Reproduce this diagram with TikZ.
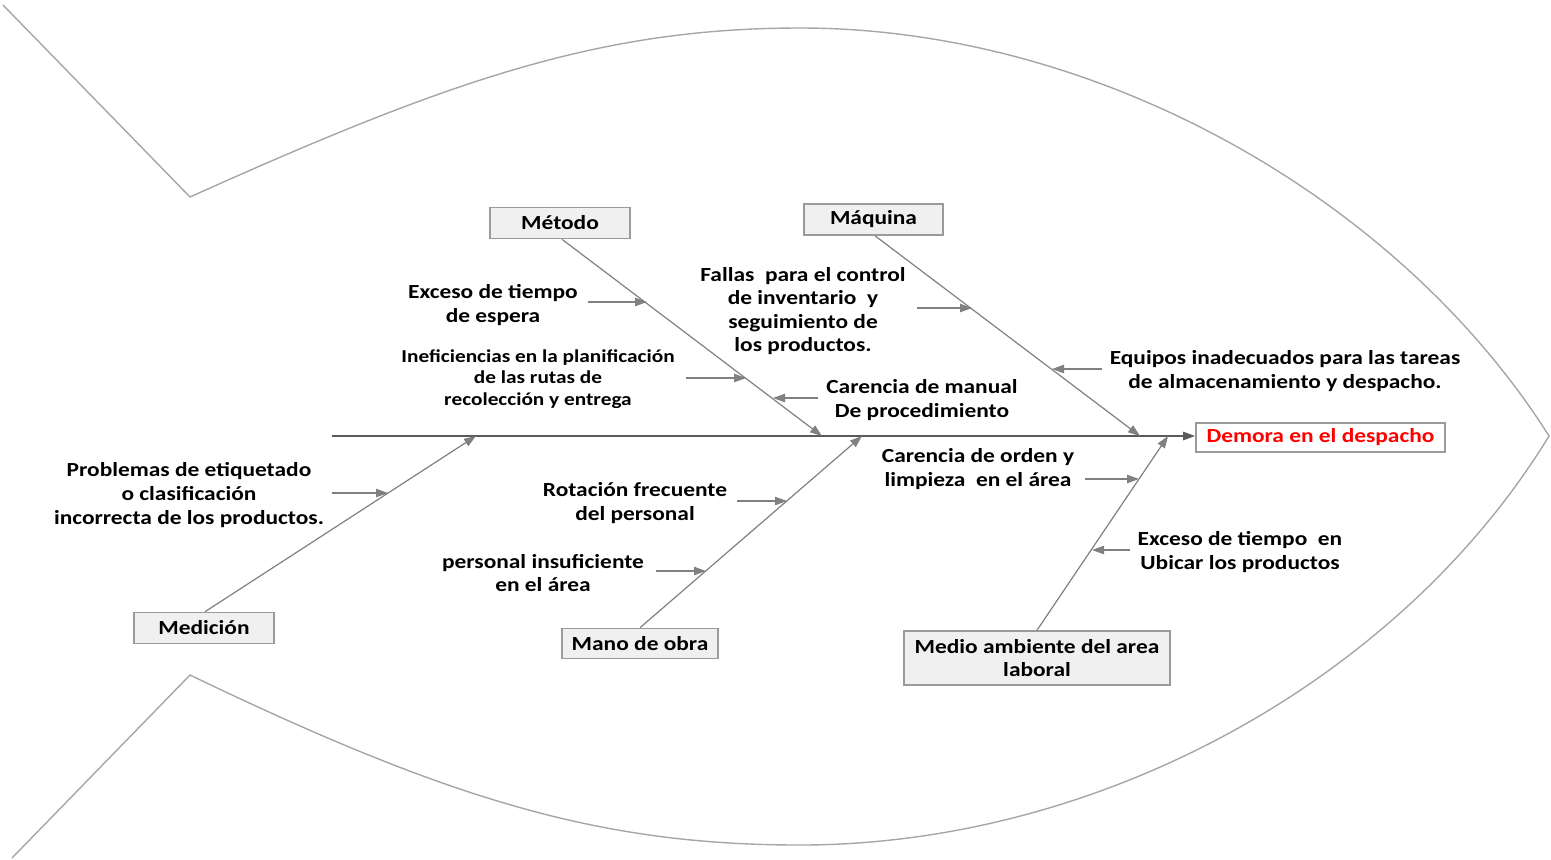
\documentclass[tikz,border=0pt]{standalone}
\usepackage{fontspec}
\setmainfont{Carlito}[FakeStretch=1.17]
\usetikzlibrary{arrows.meta}
\definecolor{lineg}{HTML}{808080}
\definecolor{spineg}{HTML}{5A5A5A}
\definecolor{boxfill}{HTML}{F0F0F0}
\definecolor{boxline}{HTML}{9A9A9A}
\begin{document}
\begin{tikzpicture}[x=0.5pt,y=-0.5pt,
  tip/.style={-{Triangle[length=6pt,width=4.2pt]}},
  bone/.style={draw=lineg,line width=0.6pt,tip},
  fishline/.style={draw=gray!70,line width=0.7pt},
  txt/.style={align=center,inner sep=0pt,font=\bfseries\fontsize{10}{11.8}\selectfont},
  catbox/.style={draw=boxline,fill=boxfill,line width=0.8pt,inner sep=0pt,align=center,font=\bfseries\fontsize{10}{11.8}\selectfont}]
\useasboundingbox (0,0) rectangle (1551,859);
% fish outline
\draw[fishline] (3,5) -- (190,197) .. controls (450,80) and (600,28) .. (800,28)
  .. controls (1100,28) and (1400,200) .. (1549,436)
  .. controls (1400,680) and (1100,845) .. (800,845)
  .. controls (600,845) and (450,800) .. (190,675) -- (12,858);
% effect
\node[draw=boxline,fill=white,line width=0.9pt,minimum width=124.5pt,minimum height=14.5pt,inner sep=0pt,
  font=\bfseries\fontsize{10}{11.8}\selectfont,text=red] (eff) at (1320.5,437.5) {Demora en el despacho};
\coordinate (tailend) at (332,436);
\draw[draw=spineg,line width=0.7pt,tip] (tailend) -- (eff.west |- tailend);
% categories
\node[catbox,minimum width=70pt,minimum height=15.5pt] (met) at (560,223) {Método};
\node[catbox,minimum width=69.5pt,minimum height=15.5pt] (maq) at (873.5,219.5) {Máquina};
\node[catbox,minimum width=70pt,minimum height=15.5pt] (med) at (204,628) {Medición};
\node[catbox,minimum width=78pt,minimum height=15pt] (mano) at (640,643.5) {Mano de obra};
\node[catbox,minimum width=133pt,minimum height=27pt] (amb) at (1037,658) {Medio ambiente del area\\laboral};
% spine points
\coordinate (sMet) at (822,436);
\coordinate (sMaq) at (1140,436);
\coordinate (sMed) at (476,436);
\coordinate (sMano) at (862,436);
\coordinate (sAmb) at (1168,436);
\draw[bone] (met.south) ++(2,0) coordinate (met0) (met0) -- (sMet);
\draw[bone] (maq.south) ++(1.5,0) coordinate (maq0) (maq0) -- (sMaq);
\draw[bone] (med.north) ++(1,0) coordinate (med0) (med0) -- (sMed);
\draw[bone] (mano.north) coordinate (mano0) (mano0) -- (sMano);
\draw[bone] (amb.north) coordinate (amb0) (amb0) -- (sAmb);
% sub-cause texts
\node[txt] (c1) at (493,305) {Exceso de tiempo\\de espera};
\node[txt,font=\bfseries\fontsize{9.1}{10.9}\selectfont] (c2) at (538,379) {Ineficiencias en la planificación\\de las rutas de\\recolección y entrega};
\node[txt] (c3) at (922,400) {Carencia de manual\\De procedimiento};
\node[txt] (c4) at (803,311) {Fallas\ \ para el control\\de inventario\ \ y\\seguimiento de\\los productos.};
\node[txt] (c5) at (1285,371) {Equipos inadecuados para las tareas\\de almacenamiento y despacho.};
\node[txt] (c6) at (189,495) {Problemas de etiquetado\\o clasificación\\incorrecta de los productos.};
\node[txt] (c7) at (635,503) {Rotación frecuente\\del personal};
\node[txt] (c8) at (543,573) {personal insuficiente\\en el área};
\node[txt] (c9) at (978,469) {Carencia de orden y\\limpieza\ \ en el área};
\node[txt] (c10) at (1240,552) {Exceso de tiempo\ \ en\\Ubicar los productos};
% sub-cause arrows
\coordinate (a1s) at (588,302);  \coordinate (a1e) at (647,302);
\coordinate (a2s) at (686,378);  \coordinate (a2e) at (746,378);
\coordinate (a3s) at (818,398);  \coordinate (a3e) at (773,398);
\coordinate (a4s) at (917,308);  \coordinate (a4e) at (972,308);
\coordinate (a5s) at (1102,369); \coordinate (a5e) at (1052,369);
\coordinate (a6s) at (332,493);  \coordinate (a6e) at (388,493);
\coordinate (a7s) at (737,501);  \coordinate (a7e) at (787,501);
\coordinate (a8s) at (656,571);  \coordinate (a8e) at (706,571);
\coordinate (a9s) at (1085,479); \coordinate (a9e) at (1139,479);
\coordinate (a10s) at (1130,550); \coordinate (a10e) at (1092,550);
\foreach \i in {1,...,10} {\draw[bone] (a\i s) -- (a\i e);}
\end{tikzpicture}
\end{document}
